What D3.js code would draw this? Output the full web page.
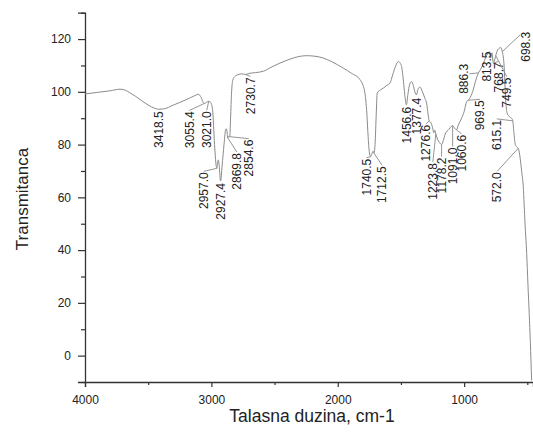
<!DOCTYPE html>
<html><head><meta charset="utf-8">
<script src="https://cdn.jsdelivr.net/npm/d3@7"></script>
<style>
html,body{margin:0;padding:0;background:#fff;}
svg{display:block;font-family:"Liberation Sans",Arial,sans-serif;}
</style></head>
<body><svg id="chart" width="533" height="436"></svg>
<script>
// ---- data ----
const wavenumbers = [4000,3900,3800,3723,3680,3650,3600,3550,3500,3450,3418.5,3380,3300,3200,3130,3104,3080,3064,3055.4,3040,3021,3005,2990,2975,2962,2957,2952,2945,2938,2927.4,2915,2900,2885,2878,2869.8,2862,2854.6,2848,2840,2830,2815,2790,2760,2730.7,2700,2650,2589,2520,2457,2400,2340,2246,2180,2115,2050,1957,1890,1824,1800,1785,1770,1762,1752,1740.5,1730,1720,1712.5,1705,1695,1688,1660,1640,1610,1587,1565,1540,1521,1505,1495,1480,1470,1456.6,1445,1430,1416,1400,1390,1377.4,1365,1350,1330,1310,1297,1285,1276.6,1265,1250,1240,1232,1223.8,1210,1195,1178.2,1165,1150,1120,1100,1091,1075,1060.6,1045,1020,1000,980,969.5,950,930,910,886.3,870,850,830,813.5,800,790,780,768.7,755,740,720,710,698.3,685,670,660,640,625,615.1,605,595,585,572,560,545,532,518,505,495,485,476,466];
const transmittance = [99.2,99.8,100.4,101.0,100.6,99.8,98.3,96.6,95.0,93.8,93.4,93.5,95.0,97.0,98.6,99.1,97.8,95.9,95.6,96.0,96.4,96.0,93.0,80,72,71.0,72.5,74.2,72,66.2,72,80,86.0,85.5,82.5,83.2,83.0,90,100,104.5,105.8,106.5,106.8,106.6,107.0,107.3,107.8,109.5,110.9,112.0,113.0,113.7,113.5,112.8,111.5,109.0,107.0,104.6,102.5,99.5,92,85,78,75.4,76.5,77.5,76.7,80,92,99.5,100.8,101.4,102.5,103.3,106.5,110,111.5,110.8,109.6,104,99,95.1,99,103,103.9,102,100,98.9,101,101.8,100,97.5,95.7,91.5,89.0,88.5,86.5,84.5,85.5,84.0,82.0,80.8,80.0,81.5,84.0,85.8,87.0,87.2,86.2,85.6,87.5,90,92.5,96.3,96.8,98,100.5,104,107.2,108.5,110.5,113,114.5,115.2,112.8,114.8,110.8,112.8,115.3,116.6,116.8,115.2,110.8,96,92,90.5,90,89,84,80,79.2,78.6,76,70,64,50,38.7,27,16,5,-9.4];

const peakLabels = ["3418.5","3055.4","3021.0","2957.0","2927.4","2869.8","2854.6","2730.7","1740.5","1712.5","1456.6","1377.4","1276.6","1223.8","1178.2","1091.0","1060.6","969.5","886.3","813.5","768.7","749.5","698.3","615.1","572.0"];

const xTickValues = [4000,3000,2000,1000];
const xMinorTicks = [3500,2500,1500,500];
const yTickValues = [0,20,40,60,80,100,120];
const yMinorTicks = [-10,10,30,50,70,90,110,130];

const xTitle = "Talasna duzina, cm-1";
const yTitle = "Transmitanca";

// ---- layout (label offsets from the peak point, pixels; attach: t = top, l = left side, r = right side) ----
const labelLayout = {
  "3418.5":[0,2,"t"],"3055.4":[-15,8,"t"],"3021.0":[-2,10,"t"],"2957.0":[-13,4,"t"],"2927.4":[0,2,"t"],
  "2869.8":[9,15,"t"],"2854.6":[19,3,"t"],"2730.7":[5,3,"t"],"1740.5":[-4,2,"t"],"1712.5":[8,13,"t"],
  "1456.6":[0,2,"t"],"1377.4":[0,3,"t"],"1276.6":[-3,4,"t"],"1223.8":[-3,29,"t"],"1178.2":[0,13,"t"],
  "1091.0":[0,22,"t"],"1060.6":[5,5,"t"],"969.5":[12,0,"t"],"886.3":[-15,-9,"r"],"813.5":[-1,-2,"t"],
  "768.7":[5,-1,"t"],"749.5":[11,22,"t"],"698.3":[24,-20,"l"],"615.1":[-16,-1,"t"],"572.0":[-21,24,"t"]
};

// ---- chart ----
const svg = d3.select("#chart");
const x = d3.scaleLinear().domain([4000,455]).range([85,533]);
const y = d3.scaleLinear().domain([-10,130]).range([382,12.7]);
const axisColor = "#333";
const textColor = "#222";

const data = wavenumbers.map((w,i)=>({w, t: transmittance[i]}));

// axes
const gx = svg.append("g").attr("transform","translate(0,382)");
gx.call(d3.axisBottom(x).tickValues(xTickValues).tickSize(5).tickPadding(8).tickFormat(d3.format("d")));
const gxm = svg.append("g").attr("transform","translate(0,382)");
gxm.call(d3.axisBottom(x).tickValues(xMinorTicks).tickSize(3).tickFormat(""));
gxm.select(".domain").remove();

const gy = svg.append("g").attr("transform","translate(85,0)");
gy.call(d3.axisLeft(y).tickValues(yTickValues).tickSize(7).tickPadding(7).tickFormat(d3.format("d")));
const gym = svg.append("g").attr("transform","translate(85,0)");
gym.call(d3.axisLeft(y).tickValues(yMinorTicks).tickSize(4).tickFormat(""));
gym.select(".domain").remove();

svg.selectAll(".domain").attr("stroke",axisColor).attr("stroke-width",1.3);
svg.selectAll(".tick line").attr("stroke",axisColor).attr("stroke-width",1.2);
svg.selectAll(".tick text").attr("fill",textColor).style("font-size","12px").style("font-family","'Liberation Sans',Arial,sans-serif");

// curve
const line = d3.line().x(d=>x(d.w)).y(d=>y(d.t)).curve(d3.curveMonotoneX);
svg.append("path").datum(data).attr("d",line).attr("fill","none")
  .attr("stroke","#8a8a8a").attr("stroke-width",1);

// peak labels
function valueAt(w){
  for(let i=0;i<data.length-1;i++){
    const a=data[i], b=data[i+1];
    if(w<=a.w && w>=b.w){ const f=(a.w-w)/(a.w-b.w); return a.t+(b.t-a.t)*f; }
  }
  return data[data.length-1].t;
}
const lg = svg.append("g");
peakLabels.forEach(lbl=>{
  const w = +lbl;
  const px = x(w), py = y(valueAt(w));
  const [dx,dy,att] = labelLayout[lbl];
  const lx = px+dx, ly = py+dy;
  let ex = lx, ey = ly-1;
  if(att==="l"){ ex = lx-6; ey = ly+3; }
  if(att==="r"){ ex = lx+6; ey = ly+10; }
  if(Math.hypot(ex-px,ey-py)>4){
    lg.append("line").attr("x1",px).attr("y1",py).attr("x2",ex).attr("y2",ey)
      .attr("stroke","#8a8a8a").attr("stroke-width",0.9);
  }
  lg.append("text").attr("transform",`translate(${lx},${ly}) rotate(-90)`)
    .attr("text-anchor","end").attr("dy","0.35em")
    .attr("fill",textColor).style("font-size","12px").text(lbl);
});

// titles
svg.append("text").attr("x",312).attr("y",422).attr("text-anchor","middle")
  .attr("fill",textColor).style("font-size","17.5px").text(xTitle);
svg.append("text").attr("transform","translate(28,199) rotate(-90)").attr("text-anchor","middle")
  .attr("fill",textColor).style("font-size","17px").text(yTitle);
</script></body></html>
